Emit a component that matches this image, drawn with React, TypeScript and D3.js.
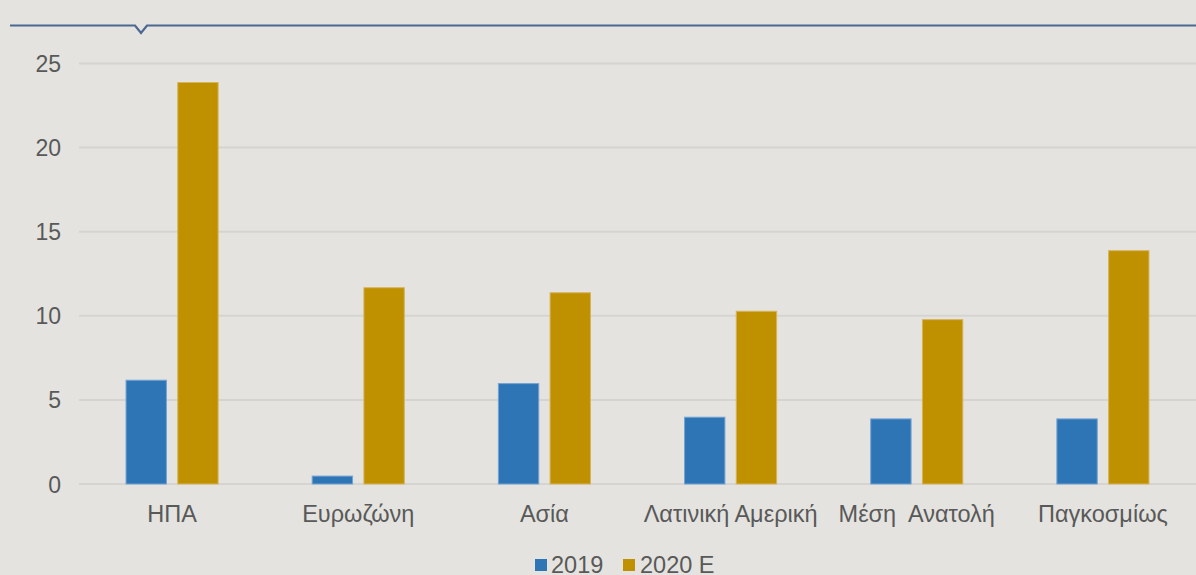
import React from "react";
import * as d3 from "d3";

const categories = ["ΗΠΑ", "Ευρωζώνη", "Ασία", "Λατινική Αμερική", "Μέση  Ανατολή", "Παγκοσμίως"];
const seriesNames = ["2019", "2020 E"];
const values2019 = [6.2, 0.5, 6.0, 4.0, 3.9, 3.9];
const values2020 = [23.9, 11.7, 11.4, 10.3, 9.8, 13.9];
const yTicks = [0, 5, 10, 15, 20, 25];
const colors = ["#2e75b6", "#bf9000"];
const strokes = ["#74a3d3", "#d6b45c"];

const W = 1196;
const H = 575;

export default function App() {
  const x0 = d3.scaleBand<string>().domain(categories).range([79, 1196]).paddingInner(0.5).paddingOuter(0.25);
  const x1 = d3.scaleBand<string>().domain(seriesNames).range([0, x0.bandwidth()]).paddingInner(0.2);
  const y = d3.scaleLinear().domain([0, 25]).range([484, 63.5]);
  const series = [values2019, values2020];
  const font = "'Liberation Sans', Arial, sans-serif";

  return (
    <svg width={W} height={H} style={{ position: "absolute", left: 0, top: 0, display: "block" }}>
      <rect x={0} y={0} width={W} height={H} fill="#e4e3df" />
      <path
        d={`M10,25.5 L135,25.5 L141,33 L147,25.5 L${W},25.5`}
        fill="none"
        stroke="#4a6892"
        strokeWidth={2.2}
      />
      {yTicks.map((t) => (
        <g key={t}>
          <line x1={79} x2={W} y1={y(t)} y2={y(t)} stroke="#d5d4d0" strokeWidth={2} />
          <text x={61} y={y(t) + 8.5} textAnchor="end" fontFamily={font} fontSize={23} fill="#595959">
            {t}
          </text>
        </g>
      ))}
      {categories.map((c, i) => (
        <g key={c} transform={`translate(${x0(c)},0)`}>
          {seriesNames.map((s, j) => (
            <rect
              key={s}
              x={(x1(s) as number) + 0.5}
              y={y(series[j][i]) + 0.5}
              width={x1.bandwidth() - 1}
              height={Math.max(0, y(0) - y(series[j][i]) - 0.5)}
              fill={colors[j]}
              stroke={strokes[j]}
              strokeWidth={1}
            />
          ))}
          <text
            x={x0.bandwidth() / 2}
            y={522}
            textAnchor="middle"
            fontFamily={font}
            fontSize={23.5}
            fill="#595959"
            style={{ whiteSpace: "pre" }}
          >
            {c}
          </text>
        </g>
      ))}
      <g>
        <rect x={535} y={559} width={12} height={12} fill={colors[0]} />
        <text x={551} y={573} fontFamily={font} fontSize={23.5} fill="#595959">{seriesNames[0]}</text>
        <rect x={623} y={559} width={12} height={12} fill={colors[1]} />
        <text x={640} y={573} fontFamily={font} fontSize={23.5} fill="#595959">{seriesNames[1]}</text>
      </g>
    </svg>
  );
}
